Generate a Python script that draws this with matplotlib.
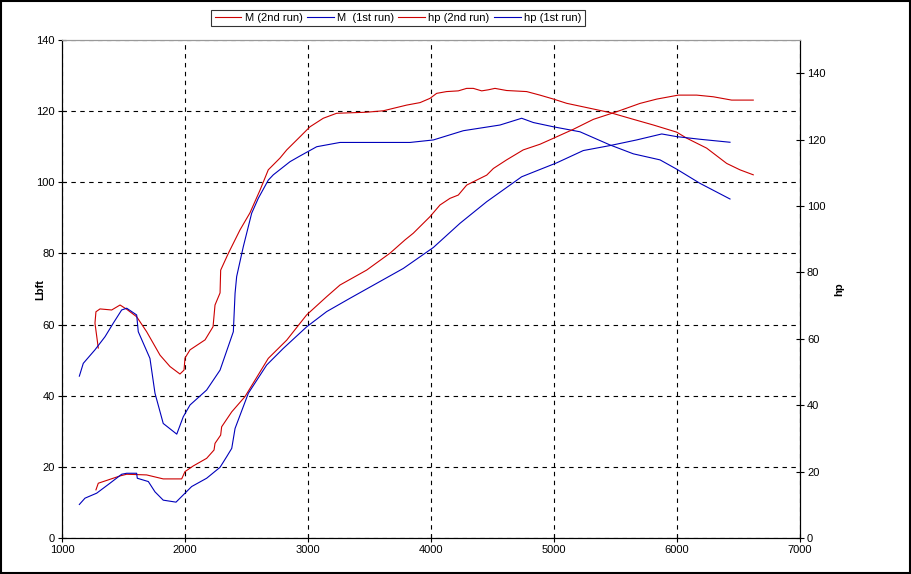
import matplotlib
matplotlib.use("Agg")
import matplotlib.pyplot as plt

plt.rcParams['font.family'] = ['Liberation Sans', 'DejaVu Sans']

# torque, 2nd run (Lbft)
m2_rpm = [1295, 1268, 1276, 1309, 1404, 1472, 1526, 1607, 1688, 1797, 1878, 1959, 1992,
          2000, 2041, 2163, 2228, 2244, 2285, 2290, 2352, 2447, 2528, 2610, 2677, 2772,
          2827, 2935, 3016, 3124, 3233, 3477, 3612, 3802, 3911, 3992, 4046, 4127, 4222,
          4290, 4344, 4412, 4466, 4520, 4615, 4778, 4886, 4995, 5103, 5293, 5455, 5645,
          5808, 5997, 6079, 6241, 6404, 6512, 6620]
m2_val = [53.4, 60.4, 63.6, 64.4, 64.1, 65.5, 64.3, 62.2, 58.0, 51.4, 48.2, 46.1, 47.2,
          50.6, 52.9, 55.7, 59.4, 65.5, 68.9, 75.3, 80.0, 86.6, 91.4, 97.8, 103.5, 106.8,
          109.1, 112.8, 115.6, 118.0, 119.4, 119.7, 120.1, 121.7, 122.4, 123.6, 125.0, 125.5, 125.7,
          126.4, 126.4, 125.7, 126.0, 126.4, 125.8, 125.5, 124.5, 123.4, 122.2, 120.8, 119.6, 117.7,
          116.1, 114.1, 112.4, 109.6, 105.3, 103.5, 102.1]

# torque, 1st run (Lbft)
m1_rpm = [1141, 1173, 1268, 1350, 1417, 1485, 1526, 1607, 1620, 1715, 1756, 1823, 1933,
          1986, 2041, 2176, 2285, 2393, 2407, 2420, 2474, 2542, 2596, 2677, 2718, 2854,
          2935, 3071, 3260, 3829, 4019, 4263, 4561, 4737, 4832, 4995, 5211, 5455, 5645,
          5862, 5997, 6187, 6431]
m1_val = [45.5, 49.1, 52.9, 56.6, 60.4, 64.1, 64.6, 62.7, 58.0, 50.5, 40.7, 32.2, 29.2,
          34.1, 37.4, 41.6, 47.2, 58.0, 68.8, 73.5, 81.9, 91.3, 95.5, 100.6, 102.1, 105.8,
          107.4, 110.0, 111.2, 111.2, 111.9, 114.5, 116.1, 118.0, 116.8, 115.6, 114.2, 110.5, 108.0,
          106.3, 103.7, 99.7, 95.3]

# power, 2nd run (hp)
hp2_rpm = [1276, 1295, 1376, 1472, 1526, 1688, 1823, 1973, 2000, 2067, 2176, 2236, 2244,
           2290, 2298, 2380, 2488, 2677, 2827, 2989, 3152, 3260, 3477, 3667, 3789, 3856,
           3992, 4073, 4154, 4222, 4290, 4371, 4453, 4507, 4615, 4750, 4886, 4995, 5157,
           5320, 5510, 5699, 5835, 6011, 6160, 6295, 6444, 6620]
hp2_val = [14.5, 16.5, 17.5, 18.7, 19.2, 19.0, 17.8, 17.8, 20.0, 21.7, 24.0, 26.5, 28.5,
           31.0, 33.5, 38.0, 42.6, 54.1, 59.6, 67.2, 72.7, 76.2, 80.7, 85.8, 89.8, 91.8,
           96.8, 100.3, 102.3, 103.3, 106.3, 107.8, 109.3, 111.3, 113.9, 116.9, 118.6, 120.4, 123.1,
           126.1, 128.4, 130.9, 132.2, 133.4, 133.4, 132.9, 131.9, 131.9]

# power, 1st run (hp)
hp1_rpm = [1141, 1187, 1282, 1390, 1485, 1526, 1607, 1612, 1702, 1756, 1823, 1927, 2000,
           2054, 2176, 2285, 2339, 2380, 2407, 2515, 2664, 2799, 2989, 3152, 3341, 3558,
           3775, 4019, 4236, 4453, 4737, 4886, 5022, 5238, 5455, 5672, 5876, 5997, 6187, 6431]
hp1_val = [10.1, 12.0, 13.5, 16.5, 19.2, 19.5, 19.5, 18.0, 17.0, 13.9, 11.4, 10.8, 13.5,
           15.5, 18.0, 21.3, 24.5, 27.0, 33.0, 43.6, 52.1, 57.1, 63.6, 68.2, 72.2, 76.7,
           81.2, 87.5, 94.8, 101.3, 108.8, 111.0, 113.0, 116.7, 118.2, 119.9, 121.7, 120.9, 120.1, 119.2]

red = '#cc0000'
blue = '#0000bb'

fig = plt.figure(figsize=(9.11, 5.74), dpi=100)
ax = fig.add_axes([62 / 911, 1 - 538 / 574, (800 - 62) / 911, (538 - 40) / 574])
ax2 = ax.twinx()

l1, = ax.plot(m2_rpm, m2_val, color=red, lw=0.8)
l2, = ax.plot(m1_rpm, m1_val, color=blue, lw=0.8)
l3, = ax2.plot(hp2_rpm, hp2_val, color=red, lw=0.8)
l4, = ax2.plot(hp1_rpm, hp1_val, color=blue, lw=0.8)

ax.set_xlim(1000, 7000)
ax.set_ylim(0, 140)
ax2.set_ylim(0, 150)
ax.set_xticks(range(1000, 7001, 1000))
ax.set_yticks(range(0, 141, 20))
ax2.set_yticks(range(0, 141, 20))

ax.grid(True, color='black', linestyle=(0, (4, 4)), linewidth=0.8)
ax.set_axisbelow(True)

for a in (ax, ax2):
    a.tick_params(direction='inout', length=6, width=0.8, labelsize=8, pad=2)
ax.spines['top'].set_color('#999999')
ax2.spines['top'].set_color('#999999')

ax.set_ylabel('Lbft', fontsize=8, fontweight='bold', labelpad=-6)
ax2.set_ylabel('hp', fontsize=8, fontweight='bold', rotation=90, labelpad=6)

leg = fig.legend([l1, l2, l3, l4],
                 ['M (2nd run)', 'M  (1st run)', 'hp (2nd run)', 'hp (1st run)'],
                 loc='center', bbox_to_anchor=(398 / 911, 1 - 18 / 574), ncol=4,
                 fontsize=8, frameon=True, fancybox=False, handlelength=2.4,
                 handletextpad=0.3, columnspacing=0.4, borderpad=0.3)
leg.get_frame().set_edgecolor('black')
leg.get_frame().set_linewidth(0.8)

# outer border of the chart
fig.patches.append(plt.Rectangle((0.001, 0.001), 0.998, 0.998, transform=fig.transFigure,
                                 fill=False, edgecolor='black', linewidth=1.5))

fig.savefig('out.png', dpi=100)
